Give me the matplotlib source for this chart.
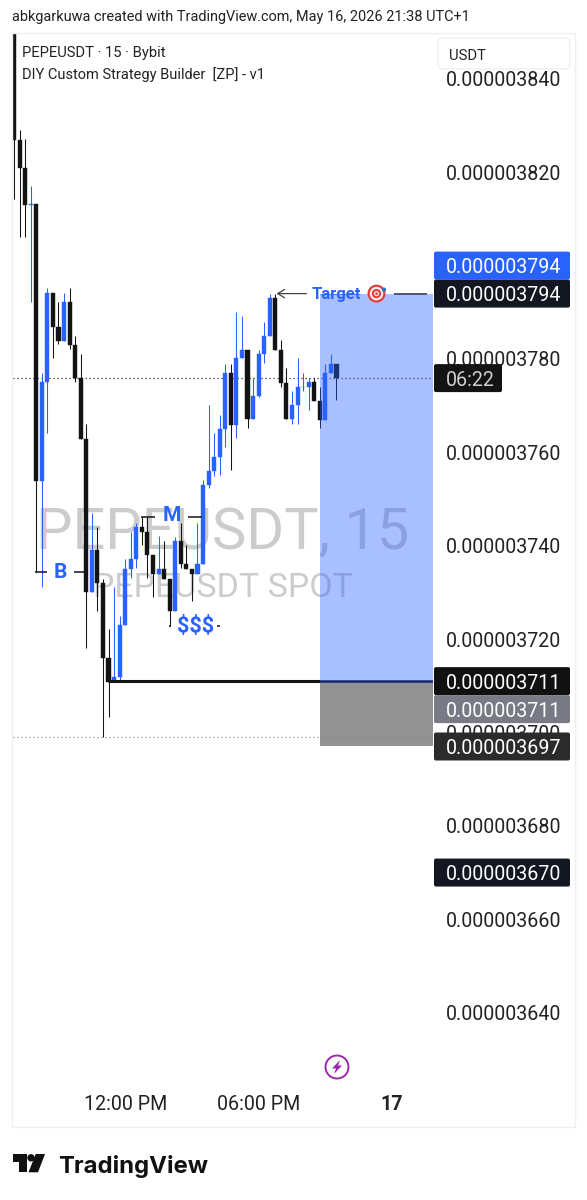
import matplotlib.pyplot as plt
from matplotlib.patches import Circle, FancyBboxPatch, Polygon, Rectangle

plt.rcParams["font.family"] = ["Roboto", "DejaVu Sans"]

# candles, prices in units of 1e-9
opens = [3852, 3827.0, 3821.0, 3813.0, 3813.1, 3753.9, 3775.0, 3794.1, 3786.9, 3783.9,
         3792.1, 3783.0, 3775.9, 3762.9, 3730.0, 3739.0, 3732.0, 3716.0, 3710.9, 3711.9,
         3723.0, 3735.0, 3737.1, 3744.0, 3743.0, 3738.0, 3734.0, 3735.0, 3732.9, 3726.0,
         3741.1, 3736.0, 3735.0, 3734.0, 3736.0, 3753.0, 3756.1, 3759.1, 3765.1, 3777.1,
         3765.9, 3780.1, 3781.9, 3767.1, 3772.1, 3781.1, 3784.9, 3793.1, 3781.9, 3774.9,
         3767.1, 3770.1, 3774.1, 3774.1, 3775.1, 3771.0, 3767.0, 3777.1, 3778.9]
highs = [3852, 3829.0, 3827.1, 3817.0, 3813.1, 3777.1, 3795.2, 3794.1, 3792.2, 3794.1,
         3795.2, 3784.9, 3781.1, 3766.1, 3747.1, 3744.0, 3732.9, 3722.2, 3731.2, 3725.0,
         3737.2, 3743.0, 3744.9, 3746.2, 3746.2, 3738.0, 3742.1, 3741.1, 3732.9, 3741.9,
         3744.9, 3740.2, 3735.0, 3744.9, 3754.1, 3770.1, 3764.1, 3768.0, 3778.9, 3778.9,
         3790.1, 3789.1, 3781.9, 3775.9, 3781.9, 3788.0, 3793.9, 3793.9, 3784.1, 3778.1,
         3773.2, 3780.1, 3777.1, 3775.9, 3775.9, 3774.1, 3778.9, 3781.1, 3778.9]
lows = [3814.3, 3806.1, 3806.1, 3792.2, 3734.4, 3731.2, 3764.2, 3780.2, 3783.2, 3783.9,
        3782.1, 3775.1, 3762.9, 3718.1, 3730.0, 3726.1, 3699.0, 3703.3, 3710.9, 3710.9,
        3723.0, 3733.1, 3735.2, 3740.2, 3733.1, 3729.1, 3734.0, 3732.9, 3722.8, 3726.0,
        3735.2, 3735.0, 3728.2, 3734.0, 3736.0, 3752.4, 3754.9, 3755.2, 3761.2, 3756.2,
        3763.1, 3780.1, 3765.2, 3767.1, 3771.9, 3779.1, 3784.9, 3781.9, 3774.1, 3767.1,
        3766.1, 3766.1, 3773.2, 3769.1, 3771.0, 3765.2, 3767.0, 3777.1, 3771.2]
closes = [3827.0, 3821.0, 3813.0, 3813.1, 3753.9, 3775.0, 3794.1, 3786.9, 3783.9, 3792.2,
          3783.0, 3775.9, 3762.9, 3730.0, 3739.0, 3732.0, 3716.0, 3710.9, 3711.9, 3723.0,
          3735.0, 3737.1, 3744.0, 3743.0, 3738.0, 3734.0, 3735.0, 3732.9, 3726.0, 3741.1,
          3736.0, 3735.0, 3734.0, 3736.0, 3753.0, 3756.1, 3759.1, 3765.1, 3777.1, 3765.9,
          3780.1, 3781.9, 3767.1, 3772.1, 3781.1, 3784.9, 3793.1, 3781.9, 3774.9, 3767.1,
          3770.1, 3774.1, 3774.1, 3775.1, 3771.0, 3767.0, 3777.1, 3778.9, 3775.9]

price_ticks = [3640, 3660, 3680, 3700, 3720, 3740, 3760, 3780, 3800, 3820, 3840]
time_ticks = [20, 44, 68]
time_labels = ["12:00 PM", "06:00 PM", "17"]

entry = 3711
target = 3794
stop = 3697
last_price = 3775.9
day_low = 3699

# price tags: value, fill, vertical shift in pixels
tag_values = [3794, 3794, 3711, 3711, 3697, 3670]
tag_colors = ["#2962ff", "#131722", "#111111", "#787b86", "#2b2b2b", "#131722"]
tag_shifts = [-28, 0, 0, 28, 0, 0]

BLUE = "#2962ff"
BLACK = "#131313"
W, H = 587, 1200

fig = plt.figure(figsize=(W / 100, H / 100), dpi=100)
ax = fig.add_axes([13 / W, 1 - 1085 / H, 420 / W, 1051 / H])
ax.set_xlim(-0.18, 75.36)
ax.set_ylim(3624.5, 3849.6)
for spine in ax.spines.values():
    spine.set_visible(False)

ax.yaxis.tick_right()
ax.set_yticks(price_ticks)
ax.set_yticklabels([f"0.00000{p}" for p in price_ticks], fontsize=14.1, color="#222222")
ax.tick_params(axis="y", length=0, pad=9.3)
ax.set_xticks(time_ticks)
ax.set_xticklabels(time_labels, fontsize=14.1, color="#222222")
ax.get_xticklabels()[2].set_fontweight("bold")
ax.tick_params(axis="x", length=0, pad=7.4)

# watermark
ax.text(0.5, 0.525, "PEPEUSDT, 15", transform=ax.transAxes, ha="center", va="center",
        fontsize=41.6, color="black", alpha=0.2, zorder=0)
ax.text(0.5, 0.473, "PEPEUSDT SPOT", transform=ax.transAxes, ha="center", va="center",
        fontsize=24.5, color="black", alpha=0.2, zorder=0)

# dotted price lines
ax.axhline(last_price, color="#333333", lw=0.9, ls=(0, (1, 2.2)), zorder=1)
ax.axhline(day_low, color="#999999", lw=0.9, ls=(0, (1, 2.2)), zorder=1)

# candles
xs = list(range(len(opens)))
colors = [BLUE if c >= o else BLACK for o, c in zip(opens, closes)]
ax.vlines(xs, lows, highs, colors=colors, lw=0.75, zorder=3)
ax.bar(xs, [c - o for o, c in zip(opens, closes)], bottom=opens, width=0.74,
       color=colors, edgecolor=colors, lw=0.3, zorder=3)

# long position box
ax.add_patch(Rectangle((55.04, entry), 20.32, target - entry, fc=BLUE, alpha=0.4, lw=0, zorder=4))
ax.add_patch(Rectangle((55.04, stop), 20.32, entry - stop, fc="#6f6f6f", alpha=0.75, lw=0, zorder=4))
ax.hlines(entry, 16.9, 55.04, color=BLACK, lw=2.2, zorder=5)
ax.hlines(entry, 55.04, 75.36, color="#14286e", lw=1.8, zorder=5)

# swing labels and their leader lines
ax.hlines(3734.4, 3.7, 6.0, color=BLACK, lw=1.1, zorder=5)
ax.hlines(3734.4, 10.8, 13.0, color=BLACK, lw=1.1, zorder=5)
ax.text(8.3, 3734.2, "B", color=BLUE, fontsize=15, fontweight="bold", ha="center", va="center", zorder=5)
ax.hlines(3746.2, 22.9, 25.4, color=BLACK, lw=1.1, zorder=5)
ax.hlines(3746.2, 31.3, 33.8, color=BLACK, lw=1.1, zorder=5)
ax.text(28.4, 3746.5, "M", color=BLUE, fontsize=15, fontweight="bold", ha="center", va="center", zorder=6)
ax.hlines(3722.8, 27.8, 28.3, color=BLACK, lw=1.1, zorder=5)
ax.hlines(3722.8, 36.6, 37.1, color=BLACK, lw=1.1, zorder=5)
ax.text(32.6, 3722.6, "$$$", color=BLUE, fontsize=15.5, fontweight="bold", ha="center", va="center", zorder=5)

ax.annotate("", xy=(47.2, target), xytext=(52.6, target), zorder=5,
            arrowprops=dict(arrowstyle="->,head_length=0.5,head_width=0.3", color="#444444", lw=0.9,
                            shrinkA=0, shrinkB=0))
ax.hlines(target, 55.04, 62.3, color=BLUE, lw=0.8, alpha=0.7, zorder=5)
ax.hlines(target, 68.4, 74.2, color="#4d5670", lw=1.4, zorder=5)
ax.text(53.6, target - 0.1, "Target", color=BLUE, fontsize=12, fontweight="bold", ha="left", va="center", zorder=6)

# page furniture on a pixel-scaled overlay
page = fig.add_axes([0, 0, 1, 1], facecolor="none")
page.set_xlim(0, W)
page.set_ylim(H, 0)
page.axis("off")


def price_y(price):
    return H - ax.transData.transform((0, price))[1]


def tag(x0, x1, yc, fill, height=28):
    page.add_patch(FancyBboxPatch((x0 + 1.5, yc - height / 2 + 1.5), x1 - x0 - 3, height - 3,
                                  boxstyle="round,pad=1.5,rounding_size=2", fc=fill, lw=0))


page.add_patch(Rectangle((11.5, 33), 563, 1093.5, fc="none", ec="#efefef", lw=1))

# target emoji
tx, ty = 376.5, price_y(target)
for radius, fill in zip([9, 6.8, 4.6, 2.6, 1.3], ["#e23b3f", "#fbeaea", "#e23b3f", "#fbeaea", "#e23b3f"]):
    page.add_patch(Circle((tx, ty), radius, fc=fill, lw=0))
page.add_patch(Circle((tx + 7.5, ty - 4), 2.1, fc="#1b78c8", lw=0))

for value, fill, shift in zip(tag_values, tag_colors, tag_shifts):
    yc = price_y(value) + shift
    tag(434, 570, yc, fill)
    page.text(446, yc, f"0.00000{value}", color="white", fontsize=14.1, va="center_baseline", ha="left")

tag(434, 502, price_y(last_price), "#131313")
page.text(446, price_y(last_price), "06:22", color="#d0d0d0", fontsize=14.1, va="center_baseline", ha="left")

page.add_patch(FancyBboxPatch((440, 40), 128, 27, boxstyle="round,pad=2,rounding_size=5",
                              fc="white", ec="#f0f0f0", lw=1))
page.text(449.5, 54, "USDT", color="#222222", fontsize=10.7, va="center_baseline")

page.text(12, 16, "abkgarkuwa created with TradingView.com, May 16, 2026 21:38 UTC+1",
          color="#222222", fontsize=10.45, va="center_baseline")
page.text(22, 52, "PEPEUSDT · 15 · Bybit", color="#222222", fontsize=10.6, va="center_baseline")
page.text(22, 73, "DIY Custom Strategy Builder  [ZP] - v1", color="#222222", fontsize=10.55, va="center_baseline")

# lightning badge
page.add_patch(Circle((337, 1067), 11.5, fc="white", ec="#9c27b0", lw=1.4))
page.add_patch(Polygon([(340, 1060), (332, 1068.5), (336, 1068.5), (334, 1074), (342, 1065.5), (338, 1065.5)],
                       fc="#9c27b0", lw=0))

# logo
page.add_patch(Polygon([(12.7, 1154), (26.7, 1154), (26.7, 1172.3), (19.3, 1172.3), (19.3, 1161.7), (12.7, 1161.7)],
                       fc="#111111", lw=0))
page.add_patch(Circle((31, 1157.8), 3.7, fc="#111111", lw=0))
page.add_patch(Polygon([(35.7, 1154), (45, 1154), (38, 1172.3), (28.5, 1172.3)], fc="#111111", lw=0))
page.text(58, 1164, "TradingView", color="#111111", fontsize=17.2, fontweight="bold",
          family=["Inter", "DejaVu Sans"], va="center_baseline")

fig.savefig("out.png", dpi=100)
